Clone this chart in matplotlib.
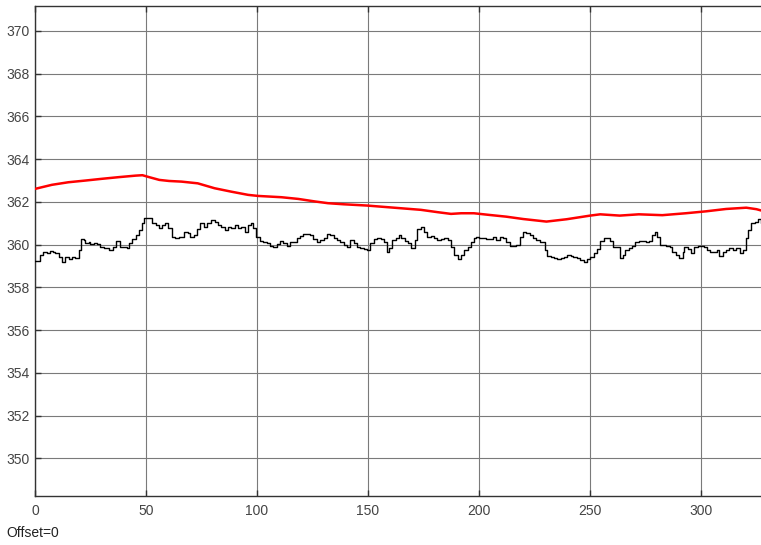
import numpy as np
import matplotlib
matplotlib.use("Agg")
import matplotlib.pyplot as plt

# measured signal (held between samples)
t_meas = [0, 2.3, 3.8, 5.3, 6.8, 8.3, 9.1, 10.6, 12.1, 13.6, 15.1, 16.6, 18.1, 19.6,
          20.9, 21.9, 22.7, 24.2, 24.9, 26.4, 28.0, 29.5, 31.0, 33.5, 35.1, 36.3,
          38.5, 40.0, 41.6, 42.3, 43.8, 45.3, 46.8, 48.1, 49.1, 52.9, 54.4, 55.9,
          57.1, 58.6, 60.1, 61.7, 63.2, 64.7, 67.3, 68.8, 70.0, 71.5, 73.0, 74.5,
          76.0, 77.5, 79.3, 80.9, 82.4, 83.9, 85.4, 86.9, 88.4, 89.9, 91.4, 92.9,
          94.5, 96.0, 97.2, 98.2, 99.7, 101.3, 102.8, 104.3, 105.8, 107.3, 108.8,
          110.3, 111.8, 113.3, 114.9, 117.9, 119.4, 120.9, 123.9, 125.4, 126.9,
          128.4, 130.0, 131.5, 133.0, 134.5, 136.0, 137.5, 139.0, 140.5, 142.1,
          143.6, 145.1, 146.6, 148.1, 149.6, 151.1, 152.6, 154.1, 155.7, 157.2,
          158.7, 159.4, 161.0, 162.5, 164.0, 165.0, 166.5, 168.0, 169.6, 171.1,
          172.3, 173.8, 175.3, 176.8, 178.3, 179.8, 181.3, 182.9, 184.4, 185.9,
          187.4, 188.9, 190.4, 191.9, 193.4, 194.9, 196.5, 197.7, 198.7, 200.2,
          203.2, 204.8, 206.3, 207.8, 209.3, 210.8, 212.3, 213.8, 216.8, 218.4,
          219.9, 221.4, 222.9, 224.4, 225.9, 227.4, 229.7, 230.7, 232.3, 233.8,
          235.3, 236.8, 238.3, 239.8, 241.3, 242.5, 244.0, 245.6, 247.1, 248.6,
          250.1, 251.6, 253.1, 254.6, 256.1, 259.2, 260.4, 263.4, 263.7, 264.8,
          266.0, 267.5, 269.0, 270.5, 272.0, 275.1, 276.6, 278.1, 279.3, 280.3,
          281.4, 284.4, 285.9, 287.1, 288.6, 290.2, 291.7, 292.4, 294.0, 295.5,
          297.0, 298.5, 301.5, 302.6, 304.1, 307.1, 308.3, 309.8, 311.3, 312.8,
          314.3, 315.8, 317.4, 318.9, 320.1, 321.1, 322.6, 324.2, 325.7, 327.2,
          328.2, 329.2]
y_meas = [359.25, 359.52, 359.67, 359.59, 359.72, 359.67, 359.59, 359.41, 359.20,
          359.41, 359.31, 359.41, 359.36, 359.75, 360.27, 360.22, 360.06, 360.14,
          360.03, 360.09, 360.03, 359.88, 359.83, 359.75, 359.91, 360.19, 359.91,
          359.88, 359.83, 360.06, 360.25, 360.45, 360.69, 361.00, 361.23, 361.00,
          360.92, 360.77, 360.92, 361.00, 360.77, 360.38, 360.30, 360.38, 360.61,
          360.53, 360.38, 360.45, 360.75, 361.00, 360.84, 361.00, 361.16, 361.08,
          360.92, 360.84, 360.69, 360.84, 360.77, 360.92, 360.77, 360.84, 360.61,
          360.92, 361.00, 360.77, 360.38, 360.19, 360.14, 360.06, 359.94, 359.91,
          360.03, 360.19, 360.06, 359.94, 360.14, 360.30, 360.41, 360.50, 360.45,
          360.25, 360.14, 360.22, 360.30, 360.50, 360.45, 360.30, 360.22, 360.14,
          359.98, 359.88, 360.22, 360.06, 359.88, 359.83, 359.78, 359.75, 360.06,
          360.27, 360.30, 360.25, 360.14, 359.67, 359.83, 360.22, 360.30, 360.45,
          360.30, 360.19, 360.06, 359.83, 360.22, 360.72, 360.81, 360.61, 360.38,
          360.41, 360.30, 360.22, 360.25, 360.30, 360.22, 359.91, 359.52, 359.31,
          359.52, 359.75, 359.91, 360.14, 360.30, 360.38, 360.30, 360.27, 360.25,
          360.38, 360.22, 360.38, 360.30, 360.14, 359.94, 359.98, 360.38, 360.61,
          360.53, 360.45, 360.30, 360.22, 360.14, 359.75, 359.47, 359.41, 359.36,
          359.31, 359.36, 359.41, 359.52, 359.47, 359.44, 359.36, 359.28, 359.20,
          359.31, 359.41, 359.59, 359.78, 360.19, 360.30, 360.19, 359.91, 359.75,
          359.36, 359.52, 359.75, 359.83, 359.94, 360.14, 360.19, 360.14, 360.19,
          360.45, 360.61, 360.38, 359.98, 359.94, 359.91, 359.67, 359.52, 359.36,
          359.67, 359.88, 359.78, 359.59, 359.88, 359.94, 359.91, 359.75, 359.67,
          359.75, 359.47, 359.67, 359.75, 359.83, 359.75, 359.83, 359.59, 359.75,
          360.30, 360.69, 361.00, 361.08, 361.19, 361.00, 360.84, 360.77]

# reference signal
t_ref = [0, 7.6, 15.0, 22.7, 30.0, 37.8, 45.3, 48.4, 51.4, 56.0, 60.4, 66.0,
         73.3, 80.9, 88.4, 96.0, 100.5, 111.0, 118.6, 126.2, 132.0, 139.0,
         149.6, 161.7, 173.8, 181.4, 187.4, 192.0, 197.7, 204.8, 212.3, 219.9,
         230.4, 239.5, 250.1, 254.6, 263.4, 272.0, 282.6, 293.2, 302.3, 311.3,
         320.4, 325.0, 329.5]
y_ref = [362.61, 362.80, 362.92, 363.00, 363.08, 363.16, 363.23, 363.25, 363.16,
         363.03, 362.98, 362.95, 362.87, 362.64, 362.48, 362.33, 362.28, 362.22,
         362.14, 362.02, 361.94, 361.89, 361.83, 361.73, 361.63, 361.52, 361.44,
         361.47, 361.47, 361.39, 361.31, 361.20, 361.08, 361.19, 361.36, 361.42,
         361.36, 361.42, 361.38, 361.47, 361.56, 361.67, 361.73, 361.66, 361.53]

x_ticks = [0, 50, 100, 150, 200, 250, 300]
y_ticks = np.arange(350, 371, 2)

plt.rcParams['font.family'] = ['Liberation Sans', 'DejaVu Sans']

fig = plt.figure(figsize=(7.61, 5.45), dpi=100)
ax = fig.add_axes([0.046, 0.0899, 0.96, 0.8996])

ax.plot(t_ref, y_ref, color='#ff0000', linewidth=1.8, zorder=3)
ax.plot(t_meas, y_meas, color='black', linewidth=1.0, drawstyle='steps-post', zorder=4)

ax.set_xlim(0, 329.1)
ax.set_ylim(348.24, 371.18)
ax.set_xticks(x_ticks)
ax.set_yticks(y_ticks)
ax.grid(True, color='#7a7a7a', linewidth=0.8)
ax.tick_params(direction='in', length=4, width=1, colors='#333333',
               labelcolor='#444444', labelsize=10, top=True)
ax.tick_params(axis='x', pad=6)
ax.tick_params(axis='y', pad=4)
for side in ['left', 'bottom', 'top']:
    ax.spines[side].set_color('#333333')
    ax.spines[side].set_linewidth(1.0)
ax.spines['right'].set_visible(False)

fig.text(0.009, 1 - 533 / 545, 'Offset=0', fontsize=10, color='#222222',
         ha='left', va='center')

fig.savefig('out.png', dpi=100)
